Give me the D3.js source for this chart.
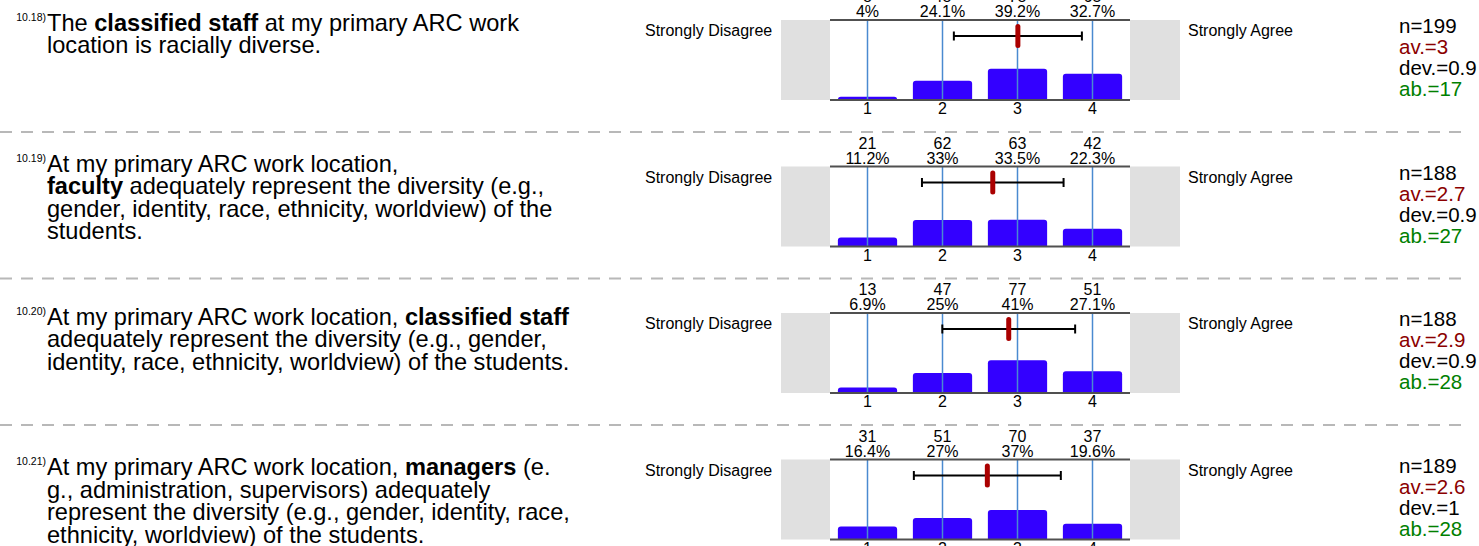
<!DOCTYPE html>
<html>
<head>
<meta charset="utf-8">
<script src="https://cdn.jsdelivr.net/npm/d3@7"></script>
<style>
  body { margin: 0; background: #fff; }
  svg { display: block; font-family: "Liberation Sans", Arial, sans-serif; }
</style>
</head>
<body>
<svg width="1479" height="546"></svg>
<script>
var questionIds = ['10.18)', '10.19)', '10.20)', '10.21)'];
// each question: lines of [text, bold] pieces
var questionLines = [
  [
    [['The ', false], ['classified staff', true], [' at my primary ARC work', false]],
    [['location is racially diverse.', false]]
  ],
  [
    [['At my primary ARC work location,', false]],
    [['faculty', true], [' adequately represent the diversity (e.g.,', false]],
    [['gender, identity, race, ethnicity, worldview) of the', false]],
    [['students.', false]]
  ],
  [
    [['At my primary ARC work location, ', false], ['classified staff', true]],
    [['adequately represent the diversity (e.g., gender,', false]],
    [['identity, race, ethnicity, worldview) of the students.', false]]
  ],
  [
    [['At my primary ARC work location, ', false], ['managers', true], [' (e.', false]],
    [['g., administration, supervisors) adequately', false]],
    [['represent the diversity (e.g., gender, identity, race,', false]],
    [['ethnicity, worldview) of the students.', false]]
  ]
];
var scaleValues = [1, 2, 3, 4];
var leftLabel = 'Strongly Disagree';
var rightLabel = 'Strongly Agree';
var counts = [
  [8, 48, 78, 65],
  [21, 62, 63, 42],
  [13, 47, 77, 51],
  [31, 51, 70, 37]
];
var percents = [
  [4, 24.1, 39.2, 32.7],
  [11.2, 33, 33.5, 22.3],
  [6.9, 25, 41, 27.1],
  [16.4, 27, 37, 19.6]
];
var nValues = [199, 188, 188, 189];
var averages = ['3', '2.7', '2.9', '2.6'];
var deviations = ['0.9', '0.9', '0.9', '1'];
var abstentions = [17, 27, 28, 28];

//////////// LAYOUT ////////////
var svg = d3.select('svg');
var blockTop = 20, blockStep = 146.5, boxH = 80;
var textOffset = [10.5, 5, 11.5, 15.5]; // first text baseline below box top
var lineH = 22.5;

var x = d3.scaleBand()
  .domain(scaleValues)
  .range([830, 1130])
  .paddingInner(0.21)
  .paddingOuter(0.105);
var xMid = function (v) { return x(v) + x.bandwidth() / 2; };
var xLin = d3.scaleLinear()
  .domain([1, 4])
  .range([xMid(1), xMid(4)]);
var y = d3.scaleLinear().domain([0, 100]).range([boxH, 0]);

// dashed separators
for (var s = 1; s < questionIds.length; s++) {
  svg.append('line')
    .attr('x1', 0).attr('x2', 1470)
    .attr('y1', blockTop + s * blockStep - 34.5)
    .attr('y2', blockTop + s * blockStep - 34.5)
    .attr('stroke', '#b8b8b8')
    .attr('stroke-width', 2)
    .attr('stroke-dasharray', '12,9');
}

// rounded-top bar path
function barPath(x0, w, top, bottom, r) {
  r = Math.min(r, (bottom - top));
  return 'M' + x0 + ',' + bottom +
    'V' + (top + r) +
    'Q' + x0 + ',' + top + ' ' + (x0 + r) + ',' + top +
    'H' + (x0 + w - r) +
    'Q' + (x0 + w) + ',' + top + ' ' + (x0 + w) + ',' + (top + r) +
    'V' + bottom + 'Z';
}

questionIds.forEach(function (qid, i) {
  var g = svg.append('g')
    .attr('transform', 'translate(0,' + (blockTop + i * blockStep) + ')');

  // question text
  var base = textOffset[i];
  g.append('text')
    .attr('x', 46).attr('y', base - 10)
    .attr('text-anchor', 'end')
    .style('font-size', '10.5px')
    .attr('fill', '#000')
    .text(qid);
  var t = g.append('text')
    .style('font-size', '23.6px')
    .attr('fill', '#000');
  questionLines[i].forEach(function (line, li) {
    line.forEach(function (piece, pi) {
      var ts = t.append('tspan')
        .attr('font-weight', piece[1] ? 'bold' : 'normal')
        .style('white-space', 'pre')
        .text(piece[0]);
      if (pi === 0) ts.attr('x', 47).attr('y', base + li * lineH);
    });
  });

  // side labels and grey panels
  g.append('text').attr('x', 645).attr('y', 16)
    .style('font-size', '16px').text(leftLabel);
  g.append('text').attr('x', 1188).attr('y', 16)
    .style('font-size', '16px').text(rightLabel);
  g.append('rect').attr('x', 781).attr('y', 0)
    .attr('width', 49).attr('height', boxH).attr('fill', '#e0e0e0');
  g.append('rect').attr('x', 1130).attr('y', 0)
    .attr('width', 50).attr('height', boxH).attr('fill', '#e0e0e0');

  // bars
  g.selectAll('path.bar')
    .data(percents[i])
    .enter()
    .append('path')
    .attr('class', 'bar')
    .attr('fill', '#3300ff')
    .attr('d', function (d, k) {
      return barPath(x(scaleValues[k]), x.bandwidth(), y(d), boxH, 3);
    });

  // vertical guide lines
  g.selectAll('line.guide')
    .data(scaleValues)
    .enter()
    .append('line')
    .attr('class', 'guide')
    .attr('x1', xMid).attr('x2', xMid)
    .attr('y1', 0).attr('y2', boxH)
    .attr('stroke', '#4a8ad0')
    .attr('stroke-width', 1.5);

  // frame lines
  [0, boxH].forEach(function (yy) {
    g.append('line')
      .attr('x1', 830).attr('x2', 1130)
      .attr('y1', yy).attr('y2', yy)
      .attr('stroke', '#505050')
      .attr('stroke-width', 2);
  });

  // counts and percents above
  g.selectAll('text.count')
    .data(counts[i])
    .enter()
    .append('text')
    .attr('class', 'count')
    .attr('x', function (d, k) { return xMid(scaleValues[k]); })
    .attr('y', -18)
    .attr('text-anchor', 'middle')
    .style('font-size', '16px')
    .text(function (d) { return d; });
  g.selectAll('text.pct')
    .data(percents[i])
    .enter()
    .append('text')
    .attr('class', 'pct')
    .attr('x', function (d, k) { return xMid(scaleValues[k]); })
    .attr('y', -3)
    .attr('text-anchor', 'middle')
    .style('font-size', '16px')
    .text(function (d) { return d + '%'; });

  // axis labels below
  var axis = g.append('g')
    .attr('transform', 'translate(0,' + boxH + ')')
    .call(d3.axisBottom(x).tickSize(0).tickPadding(3));
  axis.select('.domain').remove();
  axis.selectAll('text')
    .style('font-size', '16px')
    .style('font-family', '"Liberation Sans", Arial, sans-serif')
    .attr('fill', '#000');

  // mean and deviation from the counts
  var c = counts[i];
  var total = d3.sum(c);
  var mean = d3.sum(c, function (d, k) { return d * scaleValues[k]; }) / total;
  var varc = d3.sum(c, function (d, k) {
    return d * Math.pow(scaleValues[k] - mean, 2);
  }) / total;
  var sd = Math.sqrt(varc);
  var ey = 16;
  g.append('line')
    .attr('x1', xLin(mean - sd)).attr('x2', xLin(mean + sd))
    .attr('y1', ey).attr('y2', ey)
    .attr('stroke', '#000').attr('stroke-width', 2);
  [mean - sd, mean + sd].forEach(function (v) {
    g.append('line')
      .attr('x1', xLin(v)).attr('x2', xLin(v))
      .attr('y1', ey - 4.5).attr('y2', ey + 4.5)
      .attr('stroke', '#000').attr('stroke-width', 2);
  });
  g.append('rect')
    .attr('x', xLin(mean) - 2.5).attr('y', ey - 12)
    .attr('width', 5).attr('height', 24)
    .attr('rx', 2.5)
    .attr('fill', '#aa0000');

  // stats
  var stats = [
    ['n=' + nValues[i], '#000'],
    ['av.=' + averages[i], '#8b0000'],
    ['dev.=' + deviations[i], '#000'],
    ['ab.=' + abstentions[i], '#008000']
  ];
  g.selectAll('text.stat')
    .data(stats)
    .enter()
    .append('text')
    .attr('class', 'stat')
    .attr('x', 1399)
    .attr('y', function (d, k) { return 13 + k * 21; })
    .style('font-size', '20.5px')
    .attr('fill', function (d) { return d[1]; })
    .text(function (d) { return d[0]; });
});
</script>
</body>
</html>
